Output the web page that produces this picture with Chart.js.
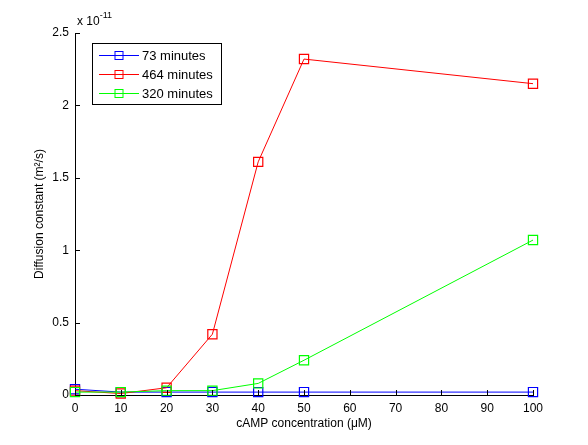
<!DOCTYPE html>
<html>
<head>
<meta charset="utf-8">
<script src="https://cdn.jsdelivr.net/npm/chart.js@4.4.1/dist/chart.umd.min.js"></script>
<style>
  html, body { margin: 0; padding: 0; background: #fff; }
  #wrap { width: 588px; height: 445px; }
</style>
</head>
<body>
<div id="wrap"><canvas id="diffusion-chart"></canvas></div>
<script>
// cAMP concentration (uM)
var concentrations = [0, 10, 20, 30, 40, 50, 100];

// diffusion constants, in units of 1e-11 m^2/s
var min73  = [0.04, 0.02, 0.02, 0.02, 0.02, 0.02, 0.02];
var min464 = [0.03, 0.01, 0.05, 0.42, 1.61, 2.32, 2.15];
var min320 = [0.02, 0.02, 0.03, 0.03, 0.08, 0.24, 1.07];

var yTicks = [0, 0.5, 1, 1.5, 2, 2.5];
var xTicks = [0, 10, 20, 30, 40, 50, 60, 70, 80, 90, 100];

var series = [
    { label: '73 minutes',  data: min73,  color: '#0000ff' },
    { label: '464 minutes', data: min464, color: '#ff0000' },
    { label: '320 minutes', data: min320, color: '#00ff00' }
];

var FONT = 'Liberation Sans, Arial, sans-serif';

function toPoints(values) {
    return concentrations.map(function(x, i) { return { x: x, y: values[i] }; });
}

var datasets = series.map(function(s, i) {
    return {
        label          : s.label,
        data           : toPoints(s.data),
        showLine       : true,
        borderColor    : s.color,
        backgroundColor: 'rgba(0,0,0,0)',
        borderWidth    : 1,
        pointStyle     : 'rect',
        pointRadius    : 6.5,
        pointBorderWidth: 1.2,
        pointBorderColor: s.color,
        pointBackgroundColor: 'rgba(0,0,0,0)',
        clip           : false,
        order          : series.length - i
    };
});

// matlab-ish inward ticks, exponent label and boxed legend
var matlabDecor = {
    id: 'matlabDecor',
    afterDraw: function(chart) {
        var c = chart.ctx, xs = chart.scales.x, ys = chart.scales.y;
        var area = chart.chartArea;
        c.save();
        c.strokeStyle = '#000';
        c.lineWidth = 1;
        c.beginPath();
        yTicks.forEach(function(v) {
            var py = Math.round(ys.getPixelForValue(v)) + 0.5;
            c.moveTo(area.left, py);
            c.lineTo(area.left + 5, py);
        });
        xTicks.forEach(function(v) {
            var px = Math.round(xs.getPixelForValue(v)) + 0.5;
            c.moveTo(px, area.bottom);
            c.lineTo(px, area.bottom - 5);
        });
        c.stroke();

        // exponent
        c.fillStyle = '#000';
        c.textBaseline = 'alphabetic';
        c.textAlign = 'left';
        c.font = '12px ' + FONT;
        c.fillText('x 10', area.left + 2, 25);
        var w = c.measureText('x 10').width;
        c.font = '9px ' + FONT;
        c.fillText('-11', area.left + 2 + w, 18);

        // legend
        var lx = 92, ly = 43, lw = 129, lh = 61;
        c.fillStyle = '#fff';
        c.fillRect(lx, ly, lw, lh);
        c.strokeRect(lx + 0.5, ly + 0.5, lw, lh);
        series.forEach(function(s, i) {
            var yy = ly + 12 + i * 19 + 0.5;
            c.strokeStyle = s.color;
            c.beginPath();
            c.moveTo(lx + 7, yy);
            c.lineTo(lx + 47, yy);
            c.stroke();
            c.strokeRect(lx + 23, yy - 4, 8, 8);
            c.fillStyle = '#000';
            c.font = '13px ' + FONT;
            c.textBaseline = 'middle';
            c.fillText(s.label, lx + 50, yy + 1);
        });
        c.restore();
    }
};

var chart = new Chart(document.getElementById('diffusion-chart'), {
    type: 'scatter',
    data: { datasets: datasets },
    options: {
        responsive: true,
        maintainAspectRatio: false,
        animation: false,
        layout: { padding: { top: 33, right: 55, left: 0, bottom: 0 } },
        plugins: {
            legend: { display: false },
            tooltip: { enabled: false }
        },
        scales: {
            x: {
                type: 'linear',
                min: 0,
                max: 100,
                afterFit: function(scale) { scale.height = 50; },
                afterBuildTicks: function(scale) {
                    scale.ticks = xTicks.map(function(v) { return { value: v }; });
                },
                grid: { display: false, drawTicks: false },
                border: { display: true, color: '#000', width: 1 },
                ticks: {
                    color: '#000',
                    padding: 6,
                    font: { family: FONT, size: 12 }
                },
                title: {
                    display: true,
                    text: 'cAMP concentration (\u03bcM)',
                    color: '#000',
                    padding: { top: 2, bottom: 14 },
                    font: { family: FONT, size: 12 }
                }
            },
            y: {
                type: 'linear',
                min: 0,
                max: 2.5,
                afterFit: function(scale) { scale.width = 75; },
                afterBuildTicks: function(scale) {
                    scale.ticks = yTicks.map(function(v) { return { value: v }; });
                },
                grid: { display: false, drawTicks: false },
                border: { display: true, color: '#000', width: 1 },
                ticks: {
                    color: '#000',
                    padding: 6,
                    font: { family: FONT, size: 12 },
                    callback: function(v) { return String(v); }
                },
                title: {
                    display: true,
                    text: 'Diffusion constant (m\u00b2/s)',
                    color: '#000',
                    padding: { top: 32, bottom: 10 },
                    font: { family: FONT, size: 12 }
                }
            }
        }
    },
    plugins: [matlabDecor]
});
</script>
</body>
</html>
